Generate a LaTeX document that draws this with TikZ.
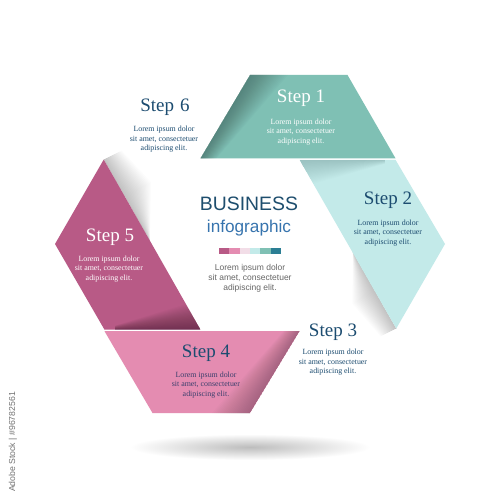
\documentclass[tikz,border=0pt]{standalone}
\usepackage{fontspec}
\setmainfont{Liberation Serif}
\newfontfamily\sansf{Liberation Sans}
\definecolor{cteal}{HTML}{7FC0B4}
\definecolor{ccyan}{HTML}{C3EAE9}
\definecolor{cmag}{HTML}{B85A86}
\definecolor{cpink}{HTML}{E48CB1}
\definecolor{clpink}{HTML}{F2DDE7}
\definecolor{cdteal}{HTML}{2B7E94}
\definecolor{cnavy}{HTML}{1C4C70}
\definecolor{cpurp}{HTML}{3A3F6C}
\definecolor{cbiz}{HTML}{1E4E6E}
\definecolor{cinfo}{HTML}{3774AE}
\definecolor{cgraytxt}{HTML}{666666}
\begin{document}
\begin{tikzpicture}[x=1pt,y=-1pt,
  titletxt/.style={font=\fontsize{19}{22}\selectfont, inner sep=0pt},
  bodytxt/.style={font=\fontsize{7.9}{9.4}\selectfont, align=center, inner sep=0pt},
  sanstxt/.style={font=\sansf\fontsize{8.5}{10}\selectfont, align=center, inner sep=0pt, text=cgraytxt},
  barsq/.style={minimum width=10.33pt, minimum height=6pt, inner sep=0pt, outer sep=0pt, draw=none}]
\useasboundingbox (0,0) rectangle (500,500);
\fill[white] (0,0) rectangle (500,500);

% ground shadow
\shade[inner color=black!26, outer color=white] (250,447) ellipse [x radius=120pt, y radius=13pt];

% shadow of step 2 (outside, lower-left edge)
\foreach \i in {1,...,20}{
  \fill[black, opacity=0.012]
    (352.7,251.9) -- (396.25,328.5) -- ++(-0.6*\i*1.3, 0.492*\i*0.8) -- (375-0.87*\i*1.3, 291+0.492*\i*1.3) -- cycle;
}
% shadow of step 5 (outside, upper-right edge)
\foreach \i in {1,...,20}{
  \fill[black, opacity=0.012]
    (150,241) -- (103.75,159.5) -- ++(0.6*\i*1.5, -0.492*\i*0.9) -- (125+0.87*\i*1.5, 197-0.492*\i*1.5) -- cycle;
}

% step 1
\fill[cteal] (250,75) -- (347.5,75) -- (395.5,158.3) -- (200.5,158.3) -- cycle;
\begin{scope}
  \clip (250,75) -- (347.5,75) -- (395.5,158.3) -- (200.5,158.3) -- cycle;
  \foreach \i in {1,...,20}{
    \fill[black!70!cteal, opacity=0.022] (250,75) -- (200.5,158.3) -- (200.5+0.8*\i,158.3) -- (250+1.9*\i,75) -- cycle;
  }
\end{scope}

% step 2
\fill[ccyan] (299.5,159.8) -- (395.5,159.8) -- (445,244) -- (396.25,328.5) -- cycle;
\begin{scope}
  \clip (299.5,159.8) -- (395.5,159.8) -- (445,244) -- (396.25,328.5) -- cycle;
  \foreach \i in {1,...,20}{
    \fill[black, opacity=0.007] (385,159.8) -- (299.5,159.8) -- (299.5,159.8+1.4*\i) -- (385,159.8+0.2*\i) -- cycle;
  }
\end{scope}

% step 4
\fill[cpink] (250,413) -- (152.5,413) -- (104.5,331.2) -- (299.5,331.2) -- cycle;
\begin{scope}
  \clip (250,413) -- (152.5,413) -- (104.5,331.2) -- (299.5,331.2) -- cycle;
  \foreach \i in {1,...,20}{
    \fill[black!60!cpink, opacity=0.022] (250,413) -- (299.5,331.2) -- (299.5-0.8*\i,331.2) -- (250-1.9*\i,413) -- cycle;
  }
\end{scope}

% step 5
\fill[cmag] (200.5,329.7) -- (104.5,329.7) -- (55,244) -- (103.75,159.5) -- cycle;
\begin{scope}
  \clip (200.5,329.7) -- (104.5,329.7) -- (55,244) -- (103.75,159.5) -- cycle;
  \foreach \i in {1,...,20}{
    \fill[black, opacity=0.02] (115,329.7) -- (200.5,329.7) -- (200.5,329.7-1.5*\i) -- (115,329.7-0.2*\i) -- cycle;
  }
\end{scope}

% texts of the steps
\node[titletxt, text=white] (t1) at (301,98) {Step 1};
\node[bodytxt, text=white] (b1) at (301,132) {Lorem ipsum dolor\\sit amet, consectetuer\\adipiscing elit.};
\node[titletxt, text=cnavy] (t2) at (388,200) {Step 2};
\node[bodytxt, text=cnavy] (b2) at (388,233) {Lorem ipsum dolor\\sit amet, consectetuer\\adipiscing elit.};
\node[titletxt, text=cnavy] (t3) at (333,332) {Step 3};
\node[bodytxt, text=cnavy] (b3) at (333,362.5) {Lorem ipsum dolor\\sit amet, consectetuer\\adipiscing elit.};
\node[titletxt, text=cnavy] (t4) at (206,353) {Step 4};
\node[bodytxt, text=cpurp] (b4) at (206,385) {Lorem ipsum dolor\\sit amet, consectetuer\\adipiscing elit.};
\node[titletxt, text=white] (t5) at (110,237) {Step 5};
\node[bodytxt, text=white] (b5) at (109,269) {Lorem ipsum dolor\\sit amet, consectetuer\\adipiscing elit.};
\node[titletxt, text=cnavy] (t6) at (165,107) {Step\hspace{6pt}6};
\node[bodytxt, text=cnavy] (b6) at (164,139.5) {Lorem ipsum dolor\\sit amet, consectetuer\\adipiscing elit.};

% centre
\node[inner sep=0pt, text=cbiz, font=\sansf\fontsize{19.4}{22}\selectfont] (biz) at (249,204) {BUSINESS};
\node[inner sep=0pt, text=cinfo, font=\sansf\fontsize{17.2}{20}\selectfont] (info) at (249,228) {infographic};
\node[barsq, fill=cmag, anchor=north west] (q1) at (219,248) {};
\node[barsq, fill=cpink, anchor=west] (q2) at (q1.east) {};
\node[barsq, fill=clpink, anchor=west] (q3) at (q2.east) {};
\node[barsq, fill=ccyan, anchor=west] (q4) at (q3.east) {};
\node[barsq, fill=cteal, anchor=west] (q5) at (q4.east) {};
\node[barsq, fill=cdteal, anchor=west] (q6) at (q5.east) {};
\node[sanstxt] (c0) at (250,278.5) {Lorem ipsum dolor\\sit amet, consectetuer\\adipiscing elit.};

% side caption
\node[rotate=90, inner sep=0pt, text=black!55, font=\sansf\fontsize{8.7}{10}\selectfont] (wm) at (13,442) {Adobe Stock | \#96782561};
\end{tikzpicture}
\end{document}
